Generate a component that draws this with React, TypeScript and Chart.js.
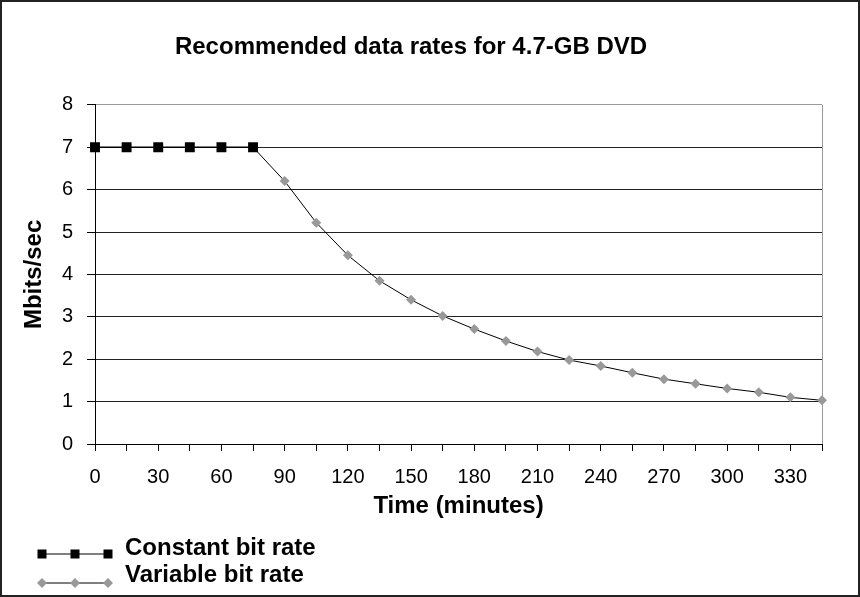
import React, { useEffect, useRef } from 'react';
import { Chart, registerables } from 'chart.js';

Chart.register(...registerables);

// ---- data ----
const chartTitle = 'Recommended data rates for 4.7-GB DVD';
const xAxisTitle = 'Time (minutes)';
const yAxisTitle = 'Mbits/sec';

const minutes = ['0', '15', '30', '45', '60', '75', '90', '105', '120', '135', '150', '165',
  '180', '195', '210', '225', '240', '255', '270', '285', '300', '315', '330', '345'];
const xTickLabels = ['0', '30', '60', '90', '120', '150', '180', '210', '240', '270', '300', '330'];
const yTickLabels = ['0', '1', '2', '3', '4', '5', '6', '7', '8'];

const seriesNames = ['Constant bit rate', 'Variable bit rate'];
const constantRate = [7, 7, 7, 7, 7, 7, null, null, null, null, null, null,
  null, null, null, null, null, null, null, null, null, null, null, null];
const variableRate = [null, null, null, null, null, 7, 6.2, 5.22, 4.45, 3.85, 3.4, 3.02,
  2.71, 2.43, 2.18, 1.98, 1.84, 1.68, 1.53, 1.42, 1.31, 1.22, 1.1, 1.03];

const BOLD = "'Liberation Sans', Arial, Helvetica, sans-serif";
const TICK = "'Liberation Sans', Arial, sans-serif";

const framePlugin = {
  id: 'frame',
  beforeDraw(chart: any) {
    const { ctx, width, height } = chart;
    ctx.save();
    ctx.fillStyle = '#ffffff';
    ctx.fillRect(0, 0, width, height);
    ctx.restore();
  },
  afterDraw(chart: any) {
    const { ctx, width, height } = chart;
    ctx.save();
    ctx.strokeStyle = '#222222';
    ctx.lineWidth = 2;
    ctx.strokeRect(1, 1, width - 2, height - 2);
    ctx.restore();
  },
};

const legendPlugin = {
  id: 'lineLegend',
  afterDraw(chart: any) {
    const ctx = chart.ctx;
    const markerRows = [554, 583];
    const textRows = [548, 575];
    const x0 = 42;
    const x1 = 108;
    chart.data.datasets.forEach((ds: any, i: number) => {
      const y = markerRows[i];
      ctx.save();
      ctx.strokeStyle = '#000';
      ctx.lineWidth = 1;
      ctx.beginPath();
      ctx.moveTo(x0, y);
      ctx.lineTo(x1, y);
      ctx.stroke();
      const xs = [x0, (x0 + x1) / 2, x1];
      ctx.fillStyle = ds.pointBackgroundColor;
      xs.forEach((x) => {
        if (ds.pointStyle === 'rect') {
          ctx.fillRect(x - 4.5, y - 4.5, 9, 9);
        } else {
          ctx.beginPath();
          ctx.moveTo(x, y - 5);
          ctx.lineTo(x + 5, y);
          ctx.lineTo(x, y + 5);
          ctx.lineTo(x - 5, y);
          ctx.closePath();
          ctx.fill();
        }
      });
      ctx.fillStyle = '#000';
      ctx.font = `bold 24px ${BOLD}`;
      ctx.textAlign = 'left';
      ctx.textBaseline = 'middle';
      ctx.fillText(ds.label, 125, textRows[i]);
      ctx.restore();
    });
  },
};

export default function App() {
  const ref = useRef<HTMLCanvasElement | null>(null);

  useEffect(() => {
    if (!ref.current) return;
    const chart = new Chart(ref.current, {
      type: 'line',
      data: {
        labels: minutes,
        datasets: [
          {
            label: seriesNames[0],
            data: constantRate,
            borderColor: '#000000',
            borderWidth: 1.5,
            pointStyle: 'rect',
            pointRadius: 7,
            pointBackgroundColor: '#000000',
            pointBorderColor: '#000000',
            pointBorderWidth: 0,
            tension: 0,
            spanGaps: false,
          },
          {
            label: seriesNames[1],
            data: variableRate,
            borderColor: '#000000',
            borderWidth: 1,
            pointStyle: 'rectRot',
            pointRadius: (c: any) => (c.dataIndex === 5 ? 0 : 5),
            pointBackgroundColor: '#999999',
            pointBorderColor: '#999999',
            pointBorderWidth: 0,
            tension: 0,
            spanGaps: false,
          },
        ],
      },
      options: {
        responsive: false,
        animation: false,
        devicePixelRatio: 1,
        layout: { padding: { left: 0, right: 38, top: 0, bottom: 0 } },
        plugins: {
          legend: { display: false },
          tooltip: { enabled: false },
          title: {
            display: true,
            text: chartTitle,
            color: '#000',
            font: { family: BOLD, size: 24, weight: 'bold' },
            padding: { top: 33, bottom: 43 },
          },
        },
        scales: {
          x: {
            type: 'category',
            offset: false,
            afterFit: (s: any) => { s.height = 153; },
            grid: {
              offset: false,
              drawOnChartArea: true,
              drawTicks: true,
              tickLength: 7,
              color: (c: any) => (c.index === minutes.length - 1 ? '#999999' : 'rgba(0,0,0,0)'),
              tickColor: '#000000',
              lineWidth: 1,
            },
            border: { display: true, color: '#000000', width: 1 },
            ticks: {
              autoSkip: false,
              maxRotation: 0,
              minRotation: 0,
              padding: 14,
              color: '#000',
              font: { family: TICK, size: 20 },
              callback: (_v: any, i: number) => (xTickLabels.includes(minutes[i]) ? minutes[i] : ''),
            },
            title: {
              display: true,
              text: xAxisTitle,
              color: '#000',
              font: { family: BOLD, size: 24, weight: 'bold' },
              padding: { top: 0, bottom: 76 },
            },
          },
          y: {
            min: 0,
            max: 8,
            afterFit: (s: any) => { s.width = 95; },
            grid: {
              drawOnChartArea: true,
              drawTicks: true,
              tickLength: 8,
              color: (c: any) => (c.tick && c.tick.value === 8 ? '#999999' : '#222222'),
              tickColor: '#000000',
              lineWidth: 1,
            },
            border: { display: true, color: '#000000', width: 1 },
            ticks: {
              stepSize: 1,
              padding: 14,
              color: '#000',
              font: { family: TICK, size: 20 },
              callback: (v: any) => yTickLabels[Number(v)] ?? '',
            },
            title: {
              display: true,
              text: yAxisTitle,
              color: '#000',
              font: { family: BOLD, size: 24, weight: 'bold' },
              padding: { top: 20, bottom: 0 },
            },
          },
        },
      },
      plugins: [framePlugin, legendPlugin],
    } as any);
    return () => chart.destroy();
  }, []);

  return (
    <div style={{ position: 'fixed', left: 0, top: 0, width: 860, height: 597, background: '#fff' }}>
      <canvas ref={ref} width={860} height={597} style={{ display: 'block' }} />
    </div>
  );
}
